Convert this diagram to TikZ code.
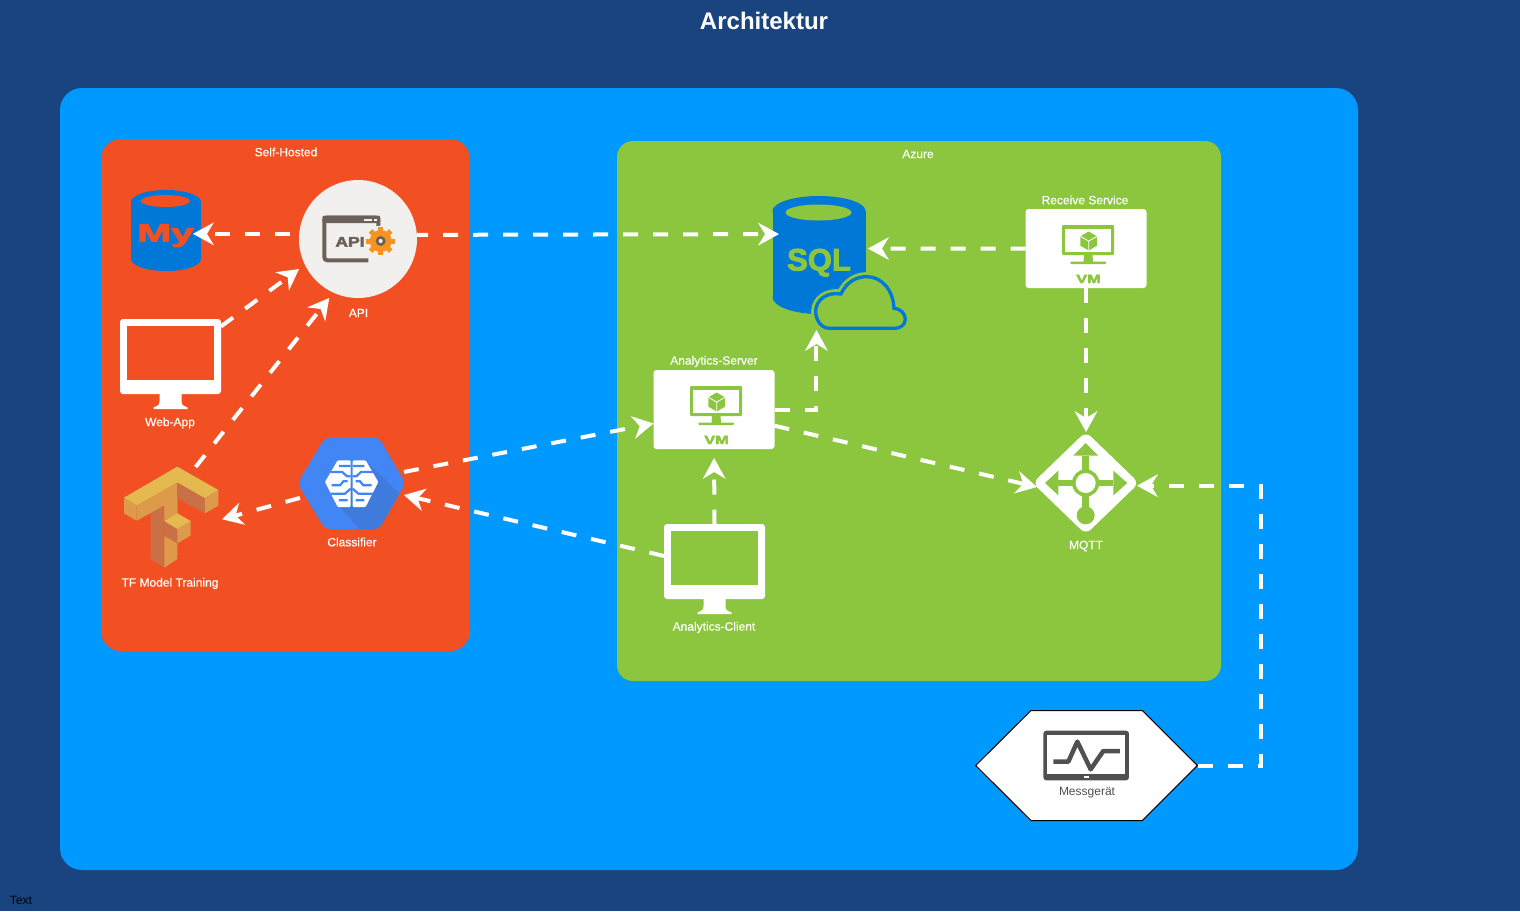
\documentclass[tikz,border=0pt]{standalone}
\usepackage{fontspec}
\setmainfont{Liberation Sans}
\newfontfamily\heavyfont[BoldFeatures={FakeBold=3}]{Liberation Sans}
\newfontfamily\labelfont[FakeBold=0.3]{Liberation Sans}
\usetikzlibrary{arrows.meta}
\definecolor{NAVYbg}{HTML}{1A4480}
\definecolor{SKYbg}{HTML}{0099FF}
\definecolor{SELForange}{HTML}{F25022}
\definecolor{AZUREgreen}{HTML}{8CC63F}
\definecolor{DBblue}{HTML}{0078D7}
\definecolor{APIgrey}{HTML}{F2F0EE}
\definecolor{APIbrown}{HTML}{6B6159}
\definecolor{GEARorange}{HTML}{F7931E}
\definecolor{BRAINblue}{HTML}{4285F4}
\definecolor{BRAINshade}{HTML}{3F7BDC}
\definecolor{TFyellow}{HTML}{E4B94F}
\definecolor{TFlight}{HTML}{DC9A4A}
\definecolor{TFdark}{HTML}{C97046}
\definecolor{METERgrey}{HTML}{505050}
\tikzset{
  lbl/.style={text=white,font=\fontsize{12}{14}\labelfont\selectfont,inner sep=0pt},
  iconbox/.style 2 args={inner sep=0pt,outer sep=0pt,minimum width=#1,minimum height=#2},
  flow/.style={draw=white,line width=4pt,dash pattern=on 15pt off 15pt,
    -{Stealth[length=21pt,width=23pt,inset=7pt,line width=0pt]}},
  pics/monitor/.style={code={
    \fill[white,rounded corners=3pt] (-50.5,-45.5) rectangle (50.5,29.5);
    \fill[#1] (-43.5,-38.5) rectangle (43.5,15.5);
    \fill[white] (-11,29) -- (-11,37) .. controls (-11,41) and (-14,42) .. (-17,43)
      -- (-17,44.5) -- (17,44.5) -- (17,43) .. controls (14,42) and (11,41) .. (11,37) -- (11,29) -- cycle;
  }},
  pics/vmbox/.style={code={
    \fill[white,rounded corners=3pt] (-60.5,-39.5) rectangle (60.5,39.5);
    \fill[AZUREgreen,rounded corners=1pt] (-24,-23.5) rectangle (28,6.5);
    \fill[white] (-20.7,-20) rectangle (25,3.7);
    \fill[AZUREgreen] (-2,6) -- (6.5,6) -- (7,13.5) -- (-2.5,13.5) -- cycle;
    \fill[AZUREgreen,rounded corners=1pt] (-15.7,13) rectangle (20,15.5);
    \fill[AZUREgreen] (2.7,-17) -- (11,-12.2) -- (11,-2.8) -- (2.7,2) -- (-5.6,-2.8) -- (-5.6,-12.2) -- cycle;
    \draw[white,line width=0.8pt] (-5.6,-12.2) -- (2.7,-7.4) -- (11,-12.2) (2.7,-7.4) -- (2.7,2);
    \node[text=AZUREgreen,inner sep=0pt,font=\fontsize{12}{14}\heavyfont\bfseries\selectfont,anchor=base] at (2.5,34.5)
      {\scalebox{1.35}[1]{VM}};
  }}
}
\begin{document}
\begin{tikzpicture}[x=1pt,y=-1pt]
    \useasboundingbox (0,0) rectangle (1520,911);
    \fill[NAVYbg] (0,0) rectangle (1520,911);
    \fill[SKYbg,rounded corners=22pt] (60,88) rectangle (1358,870);
    \fill[SELForange,rounded corners=20pt] (101,139) rectangle (470,651);
    \fill[AZUREgreen,rounded corners=16pt] (617,141) rectangle (1221,681);

    \node[text=white,inner sep=0pt,font=\fontsize{24}{28}\bfseries\selectfont] (title) at (764,21) {Architektur};
    \node[inner sep=0pt,text=black,font=\fontsize{12}{14}\selectfont] (textnote) at (21,900.5) {Text};
    \node[lbl] (selflbl) at (286,152) {Self-Hosted};
    \node[lbl] (azurelbl) at (918,154) {Azure};

    % self-hosted side
    \node[iconbox={70pt}{80pt}] (mysql) at (166,231) {};
    \fill[DBblue] (166,202) ellipse [x radius=35,y radius=12];
    \fill[DBblue] (131,202) rectangle (201,259);
    \fill[DBblue] (166,259) ellipse [x radius=35,y radius=12];
    \fill[SELForange] (165.5,201) ellipse [x radius=24.5,y radius=6];
    \node[text=SELForange,inner sep=0pt,font=\fontsize{25.5}{28}\heavyfont\bfseries\selectfont,anchor=base] (mytext) at (165.5,241.7)
      {\scalebox{1.6}[1]{My}};

    \node[iconbox={118pt}{118pt}] (api) at (358,239) {};
    \fill[APIgrey] (358,239) circle [radius=59];
    \begin{scope}[shift={(315,205)},scale=0.3333]
      \draw[APIbrown,line width=4pt,rounded corners=3pt] (190,80) -- (190,38) -- (28,38) -- (28,166) -- (160,166);
      \fill[APIbrown,rounded corners=2pt] (22,32) rectangle (196,54);
      \fill[APIgrey] (148,42) rectangle (170,48);
      \fill[APIgrey] (178,42) rectangle (186,48);
      \node[text=APIbrown,inner sep=0pt,font=\fontsize{14}{16}\heavyfont\bfseries\selectfont,anchor=base] (apitext) at (105,125)
        {\scalebox{1.25}[1]{API}};
      \fill[APIgrey] (197,108) circle [radius=46];
      \foreach \ang in {0,45,...,315}
        \draw[GEARorange,line width=5pt] (197,108) ++(\ang:22) -- ++(\ang:21);
      \fill[GEARorange] (197,108) circle [radius=33];
      \fill[APIbrown] (197,108) circle [radius=15];
      \fill[APIgrey] (197,108) circle [radius=6];
    \end{scope}
    \node[lbl] (apilbl) at (358.5,313) {API};

    \node[iconbox={101pt}{90pt}] (webapp) at (170.5,364.5) {};
    \pic at (170.5,364.5) {monitor=SELForange};
    \node[lbl] (webapplbl) at (170,423) {Web-App};

    \node[iconbox={102pt}{101pt}] (tfmodel) at (171,517.5) {};
    \begin{scope}[shift={(115,460)},scale=0.3333]
      \fill[TFyellow] (187,20) -- (310,90) -- (270,115) -- (187,68) -- (65,137) -- (27,113) -- cycle;
      \fill[TFlight] (27,113) -- (65,137) -- (65,182) -- (27,160) -- cycle;
      \fill[TFlight] (65,137) -- (187,68) -- (187,160) -- (148,183) -- (148,137) -- (65,182) -- cycle;
      \fill[TFdark] (187,68) -- (270,115) -- (270,160) -- (187,115) -- cycle;
      \fill[TFlight] (270,115) -- (310,90) -- (310,137) -- (270,160) -- cycle;
      \fill[TFdark] (107,160) -- (148,137) -- (148,323) -- (107,297) -- cycle;
      \fill[TFlight] (148,227) -- (187,250) -- (187,297) -- (148,323) -- cycle;
      \fill[TFlight] (148,137) -- (187,115) -- (187,160) -- (148,183) -- cycle;
      \fill[TFdark] (148,183) -- (187,207) -- (187,250) -- (148,227) -- cycle;
      \fill[TFlight] (187,207) -- (227,183) -- (227,227) -- (187,250) -- cycle;
      \fill[TFyellow] (148,183) -- (187,160) -- (227,183) -- (187,207) -- cycle;
    \end{scope}
    \node[lbl] (tfmodellbl) at (170,583.5) {TF Model Training};

    \node[iconbox={104pt}{90pt}] (classifier) at (352,483) {};
    \begin{scope}
      \path[clip,rounded corners=6pt] (297.5,483.3) -- (325,437.5) -- (379,437.5) -- (405.5,483.3) -- (379,529) -- (325,529) -- cycle;
      \fill[BRAINblue] (290,430) rectangle (410,535);
      \fill[BRAINshade,shift={(295,432)},scale=0.3333] (215,90) -- (330,200) -- (330,310) -- (210,310) -- (125,215) -- cycle;
    \end{scope}
    \begin{scope}[shift={(295,432)},scale=0.3333]
      \foreach \side in {1,-1}{
        \begin{scope}[shift={(170,0)},xscale=\side]
          \fill[white,rounded corners=1pt] (-3,85) -- (-42,85) -- (-80,150) -- (-42,225) -- (-3,225) -- cycle;
          \draw[BRAINblue,line width=2.2pt]
            (-38,102) -- (-3,102)
            (-64,120) -- (-28,120) -- (-14,133) -- (-3,133)
            (-60,160) -- (-35,160) -- (-25,148) -- (-12,148)
            (-64,185) -- (-20,185) -- (-3,170)
            (-38,205) -- (-12,205);
        \end{scope}
      }
    \end{scope}
    \node[lbl] (classifierlbl) at (352,542) {Classifier};

    % azure side
    \node[iconbox={89pt}{134pt}] (sqldb) at (823.5,263) {};
    \fill[DBblue] (819,211) ellipse [x radius=46.5,y radius=15];
    \fill[DBblue] (772.5,211) rectangle (865.5,297);
    \fill[DBblue] (819,297) ellipse [x radius=46.5,y radius=17];
    \fill[AZUREgreen] (818.5,212.5) ellipse [x radius=33,y radius=8];
    \node[text=AZUREgreen,inner sep=0pt,font=\fontsize{31}{34}\heavyfont\bfseries\selectfont,anchor=base] (sqltext) at (819,270.5) {SQL};
    \begin{scope}[shift={(640,180)},scale=0.3333]
      \path[fill=AZUREgreen,draw=AZUREgreen,line width=9pt] (570,445) .. controls (540,445) and (527,415) .. (527,395)
        .. controls (527,360) and (560,335) .. (603,342) .. controls (620,305) and (650,290) .. (680,290)
        .. controls (725,290) and (760,330) .. (762,385) .. controls (780,385) and (796,400) .. (796,418)
        .. controls (796,435) and (780,445) .. (765,445) -- cycle;
      \draw[DBblue,line width=3.3pt] (570,445) .. controls (540,445) and (527,415) .. (527,395)
        .. controls (527,360) and (560,335) .. (603,342) .. controls (620,305) and (650,290) .. (680,290)
        .. controls (725,290) and (760,330) .. (762,385) .. controls (780,385) and (796,400) .. (796,418)
        .. controls (796,435) and (780,445) .. (765,445) -- cycle;
    \end{scope}

    \node[iconbox={121pt}{79pt}] (receive) at (1086,248.5) {};
    \pic at (1086,248.5) {vmbox};
    \node[lbl] (receivelbl) at (1085,200) {Receive Service};

    \node[iconbox={121pt}{79pt}] (server) at (714,409.5) {};
    \pic at (714,409.5) {vmbox};
    \node[lbl] (serverlbl) at (714,361.5) {Analytics-Server};

    \node[iconbox={101pt}{90pt}] (client) at (714.5,569.5) {};
    \pic at (714.5,569.5) {monitor=AZUREgreen};
    \node[lbl] (clientlbl) at (714,627.5) {Analytics-Client};

    \node[iconbox={102pt}{102pt}] (mqtt) at (1086,483) {};
    \begin{scope}[shift={(1030,428)},scale=0.3333]
      \fill[white,rounded corners=7pt] (167.5,11) -- (327,165) -- (167.5,319) -- (8,165) -- cycle;
      \fill[AZUREgreen] (157,83) rectangle (178,250);
      \fill[AZUREgreen] (85,155) rectangle (250,175);
      \fill[AZUREgreen] (167,45) -- (205,83) -- (130,83) -- cycle;
      \fill[AZUREgreen] (45,165) -- (85,128) -- (85,202) -- cycle;
      \fill[AZUREgreen] (292,165) -- (250,128) -- (250,202) -- cycle;
      \fill[AZUREgreen] (167,165) circle [radius=41];
      \fill[white] (167,165) circle [radius=30];
      \fill[AZUREgreen] (167,262) circle [radius=27];
    \end{scope}
    \node[lbl] (mqttlbl) at (1086,546) {MQTT};

    % meter
    \node[iconbox={222pt}{110pt}] (meter) at (1086.5,765.5) {};
    \draw[black,fill=white,line width=1pt] (975.7,765.5) -- (1031,710.5) -- (1142.3,710.5) -- (1197.3,765.5) -- (1142.3,820.5) -- (1031,820.5) -- cycle;
    \begin{scope}[shift={(960,700)},scale=0.3333]
      \fill[METERgrey,rounded corners=3pt] (250,92) rectangle (507,241);
      \fill[white] (262,104) rectangle (495,221);
      \fill[white] (373,228) rectangle (386,233);
      \draw[METERgrey,line width=4.5pt,line join=round] (280,185) -- (325,185) -- (352,125) -- (392,208) -- (430,153) -- (480,153);
    \end{scope}
    \node[inner sep=0pt,text=METERgrey,font=\fontsize{12}{14}\selectfont] (meterlbl) at (1087,792.5) {Messgerät};
    \coordinate (cablebend) at (1261,620);

    % connectors
    \draw[flow,dash phase=21pt,shorten >=-8pt] (api.175.2) -- (mysql.east |- api.175.2);
    \draw[flow,dash phase=4pt] (api.4.8) -- (sqldb.147.8);
    \draw[flow] (webapp.37) -- (api.207.7);
    \draw[flow] (tfmodel.64.6) -- (api.244.6);
    \draw[flow] (classifier.196.1) -- (tfmodel.358);
    \draw[flow] (classifier.12) -- (server.193);
    \draw[flow] (client.165.6) -- (classifier.347);
    \draw[flow,shorten >=9pt] (client.north) -- (server.south);
    \draw[flow] (server.east) -| (sqldb.264.5);
    \draw[flow,shorten >=-2pt] (server.345.2) -- (mqtt.184.7);
    \draw[flow] (receive.west) -- (sqldb.18.6);
    \draw[flow] (receive.south) -- (mqtt.north);
    \draw[flow] (meter.east) -| (cablebend) |- (mqtt.357);
\end{tikzpicture}
\end{document}
